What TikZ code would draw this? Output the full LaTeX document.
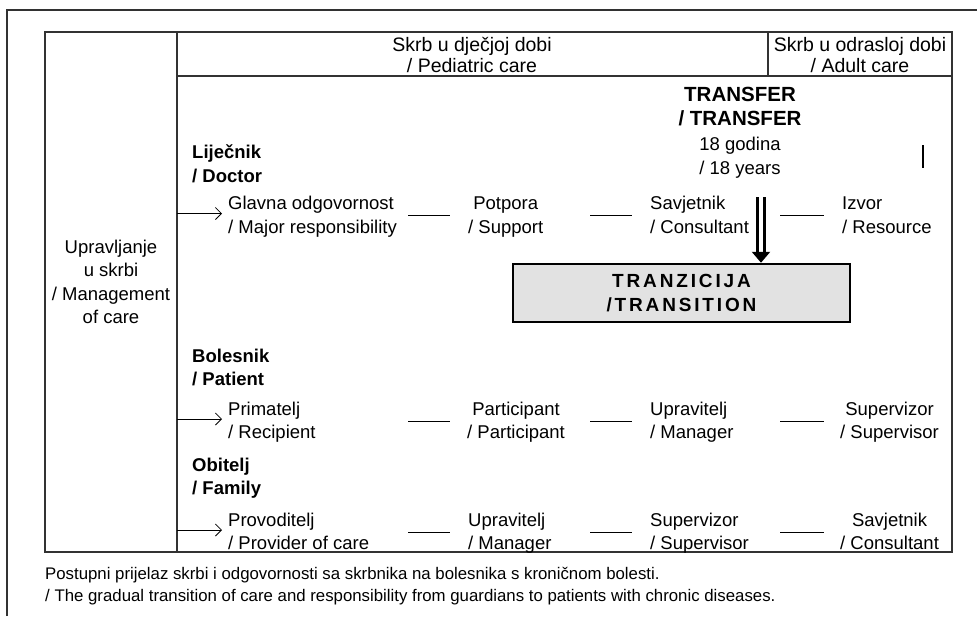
\documentclass[tikz,border=0pt]{standalone}
\usepackage{fontspec}
\setmainfont{Liberation Sans}
\usetikzlibrary{arrows.meta,positioning}
\definecolor{boxgray}{RGB}{226,226,226}
\definecolor{rulegray}{RGB}{50,50,50}

\begin{document}
\begin{tikzpicture}[x=1pt,y=-1pt,
  every node/.style={font=\fontsize{18.5}{23.5}\selectfont, inner sep=0pt},
  role/.style={anchor=west, align=left, execute at begin node=\strut, execute at end node=\strut},
  rolec/.style={role, align=center},
  who/.style={role, font=\fontsize{18.5}{23.5}\selectfont\bfseries},
  head/.style={align=center, font=\fontsize{19.5}{21}\selectfont},
  rule/.style={draw=rulegray, line width=1.2pt},
  gap/.style={line width=0.8pt},
  into/.style={-{Straight Barb[length=6pt,width=12pt]}, line width=0.8pt, shorten >=6pt},
  handover/.style={double, double distance=4pt, line width=2.6pt, -{Triangle[length=11pt,width=18pt]}}]
  \useasboundingbox (0,0) rectangle (977,616);
  % frame and table
  \draw[rule] (7,616) -- (7,10) -- (977,10);
  \draw[rule] (45,32) rectangle (952,552);
  \draw[rule] (177,32) -- (177,552);
  \draw[rule] (177,76) -- (952,76);
  \draw[rule] (768,32) -- (768,76);
  % header
  \node[head] (ped) at (472,55) {Skrb u dječjoj dobi\\/ Pediatric care};
  \node[head] (adult) at (860,55) {Skrb u odrasloj dobi\\/ Adult care};
  \node[align=center] (mgmt) at (111,282) {Upravljanje\\u skrbi\\/ Management\\of care};
  % transfer
  \node[align=center] (transfer) at (740,133)
    {{\fontsize{20.5}{23.5}\selectfont\bfseries TRANSFER}\\{\fontsize{20.5}{23.5}\selectfont\bfseries / TRANSFER}\\[2pt]18 godina\\/ 18 years};
  \draw[line width=1.2pt] (923,145) -- (923,168);
  % doctor
  \node[who] (doctor) at (192,167) {Liječnik\\/ Doctor};
  \node[role] (glavna) at (228,218.5) {Glavna odgovornost\\/ Major responsibility};
  \node[rolec] (potpora) at (468,218.5) {Potpora\\/ Support};
  \node[role] (savjetnik) at (650,218.5) {Savjetnik\\/ Consultant};
  \node[role] (izvor) at (842,218.5) {Izvor\\/ Resource};
  % patient
  \node[who] (patient) at (192,371) {Bolesnik\\/ Patient};
  \node[role] (primatelj) at (228,424) {Primatelj\\/ Recipient};
  \node[rolec] (participant) at (467,424) {Participant\\/ Participant};
  \node[role] (upravitelj) at (650,424) {Upravitelj\\/ Manager};
  \node[rolec] (supervizor) at (840,424) {Supervizor\\/ Supervisor};
  % family
  \node[who] (family) at (192,480) {Obitelj\\/ Family};
  \node[role] (provoditelj) at (228,535) {Provoditelj\\/ Provider of care};
  \node[role] (upraviteljf) at (468,535) {Upravitelj\\/ Manager};
  \node[role] (supervizorf) at (650,535) {Supervizor\\/ Supervisor};
  \node[rolec] (savjetnikf) at (840,535) {Savjetnik\\/ Consultant};
  % transition box
  \node[draw, line width=2.5pt, fill=boxgray, minimum width=337pt, minimum height=58pt,
    align=center, font=\fontsize{19}{24}\selectfont\bfseries\addfontfeature{LetterSpace=15}]
    (tranz) at (681.5,293) {TRANZICIJA\\/TRANSITION};
  \coordinate (ttop) at (761,197);
  \draw[handover] (ttop) -- (tranz.north -| ttop);
  % arrows into rows
  \foreach \r in {glavna,primatelj,provoditelj}
    \draw[into] ([yshift=5pt]177,0 |- \r.west) -- ([yshift=5pt]\r.west);
  % dashes between roles
  \foreach \r in {glavna,primatelj,provoditelj} {
    \draw[gap] ([yshift=3pt]408,0 |- \r.west) -- ([yshift=3pt]450,0 |- \r.west);
    \draw[gap] ([yshift=3pt]590,0 |- \r.west) -- ([yshift=3pt]632,0 |- \r.west);
    \draw[gap] ([yshift=3pt]780,0 |- \r.west) -- ([yshift=3pt]824,0 |- \r.west);
  }
  % caption
  \node[anchor=west, align=left, font=\fontsize{16.8}{22}\selectfont] (caption) at (45,586)
    {Postupni prijelaz skrbi i odgovornosti sa skrbnika na bolesnika s kroničnom bolesti.\\/ The gradual transition of care and responsibility from guardians to patients with chronic diseases.};
\end{tikzpicture}
\end{document}
